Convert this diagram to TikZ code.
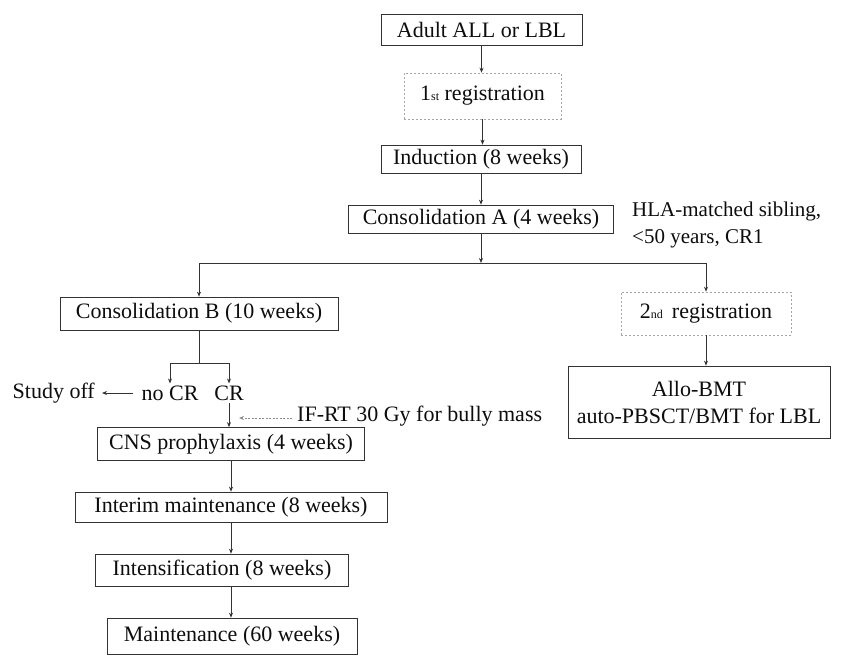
\documentclass[tikz,border=0pt]{standalone}
\usepackage{fontspec}
\setmainfont{Liberation Serif}
\usetikzlibrary{arrows.meta}
\begin{document}
\begin{tikzpicture}[x=1pt,y=-1pt,
  every node/.style={font=\fontsize{22}{27}\selectfont, text=black!95},
  box/.style={draw=black!80, line width=0.7pt, inner sep=0pt, align=center},
  regbox/.style={draw=black!35, line width=0.6pt, dash pattern=on 2pt off 2pt, inner sep=0pt, align=center},
  lbl/.style={inner sep=2pt},
  conn/.style={draw=black!80, line width=0.7pt, -{Stealth[length=5pt,width=4pt]}},
  plain/.style={draw=black!80, line width=0.7pt},
  faint/.style={draw=black!45, line width=0.6pt, dash pattern=on 2pt off 1.5pt, -{Stealth[length=5pt,width=4pt]}}
]
\useasboundingbox (0,0) rectangle (841,656);

% main column
\node[box, minimum width=201pt, minimum height=31pt] (adult) at (481.5,29.5) {Adult ALL or LBL};
\node[regbox, minimum width=157pt, minimum height=46pt] (reg1) at (482.5,96) {1{\fontsize{12}{12}\selectfont st} registration};
\node[box, minimum width=200pt, minimum height=28pt] (ind) at (481,159) {Induction (8 weeks)};
\node[box, minimum width=265pt, minimum height=28pt] (consA) at (481,219) {Consolidation A (4 weeks)};
\node[lbl, anchor=west, align=left, font=\fontsize{21}{27}\selectfont] (hla) at (630,224.5) {HLA-matched sibling,\\<50 years, CR1};

\draw[conn] (adult.south) -- (adult.south |- reg1.north);
\draw[conn] (reg1.south) -- (reg1.south |- ind.north);
\draw[conn] (ind.south) -- (ind.south |- consA.north);

% branch
\coordinate (br) at (481,263);
\node[box, minimum width=278pt, minimum height=33pt] (consB) at (199,313.5) {Consolidation B (10 weeks)};
\node[regbox, minimum width=170pt, minimum height=43pt] (reg2) at (706,313.5) {2{\fontsize{12}{12}\selectfont nd}\, registration};
\node[box, minimum width=262pt, minimum height=72pt] (allo) at (699,402) {Allo-BMT\\auto-PBSCT/BMT for LBL};

\draw[conn] (consA.south) -- (br);
\draw[conn] (br) -| (consB.north);
\draw[conn] (br) -| (reg2.north);
\draw[conn] (reg2.south) -- (reg2.south |- allo.north);

% split after consolidation B
\coordinate (sp) at (199,363);
\node[lbl] (nocr) at (170,393) {no CR};
\node[lbl] (cr) at (229,393) {CR};
\node[lbl, anchor=east] (off) at (97,393) {Study off};
\node[lbl, anchor=west] (ifrt) at (295,416) {IF-RT 30 Gy for bully mass};
\coordinate (ifend) at (239,418);

\draw[plain] (consB.south) -- (sp);
\draw[conn] (sp) -| (nocr.north);
\draw[conn] (sp) -| (cr.north);
\draw[conn, shorten <=6pt, shorten >=5pt] (nocr.west) -- (off.east);
\draw[faint, shorten <=3pt] (ifrt.west |- ifend) -- (ifend);

% lower column
\node[box, minimum width=267pt, minimum height=33pt] (cns) at (231,444) {CNS prophylaxis (4 weeks)};
\node[box, minimum width=312pt, minimum height=30pt] (interim) at (231,507) {Interim maintenance (8 weeks)};
\node[box, minimum width=253pt, minimum height=32pt] (inten) at (222,570) {Intensification (8 weeks)};
\node[box, minimum width=250pt, minimum height=36pt] (maint) at (232,636) {Maintenance (60 weeks)};

\draw[conn] (cr.south) -- (cr.south |- cns.north);
\draw[conn] (cns.south) -- (cns.south |- interim.north);
\draw[conn] (cns.south |- interim.south) -- (cns.south |- inten.north);
\draw[conn] (cns.south |- inten.south) -- (cns.south |- maint.north);
\end{tikzpicture}
\end{document}
